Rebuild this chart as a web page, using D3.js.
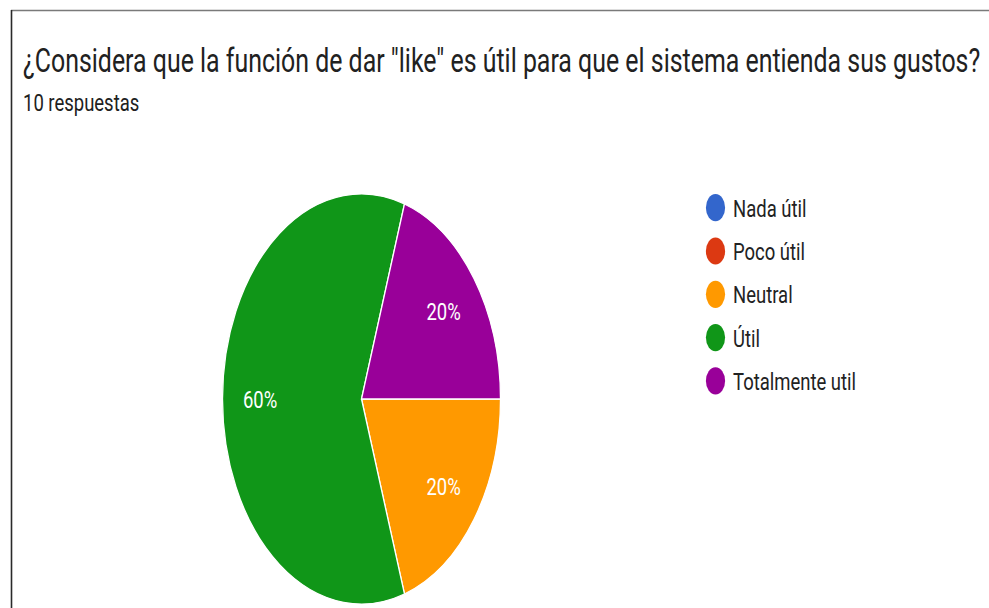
<!DOCTYPE html>
<html>
<head>
<meta charset="utf-8">
<script src="https://cdn.jsdelivr.net/npm/d3@7"></script>
<style>
  html, body { margin: 0; padding: 0; background: #fff; }
  svg { display: block; font-family: Roboto, "Noto Sans", Arial, sans-serif; }
</style>
</head>
<body>
<svg id="chart" width="989" height="608"></svg>
<script>
// Survey answers
const categories = ["Nada útil", "Poco útil", "Neutral", "Útil", "Totalmente util"];
const counts = [0, 0, 2, 6, 2];
const colors = ["#3366cc", "#dc3912", "#ff9900", "#109618", "#990099"];
const title = "¿Considera que la función de dar \"like\" es útil para que el sistema entienda sus gustos?";
const subtitle = "10 respuestas";

const svg = d3.select("#chart");
const W = 989, H = 608;

// Horizontal compression applied to the pie
const sx = 139 / 205;
// Horizontal compression for the smaller labels
const sxText = 0.77;

// Card border (top and left edges visible)
svg.append("line").attr("x1", 11).attr("x2", W).attr("y1", 10.5).attr("y2", 10.5)
  .attr("stroke", "#7a7a7a").attr("stroke-width", 1.6);
svg.append("line").attr("x1", 11.5).attr("x2", 11.5).attr("y1", 10).attr("y2", H)
  .attr("stroke", "#2a2a2a").attr("stroke-width", 1.6);

function addText(str, x, y, size, fill, fitWidth, anchor) {
  const t = svg.append("text")
    .attr("font-size", size)
    .attr("fill", fill)
    .attr("text-anchor", anchor || "start")
    .text(str);
  let k = sxText;
  if (fitWidth) k = fitWidth / t.node().getComputedTextLength();
  t.attr("transform", `translate(${x},${y}) scale(${k},1)`);
  return t;
}

addText(title, 23, 72, 32.5, "#212121", 958);
addText(subtitle, 23, 111, 24, "#212121");

// Pie
const cx = 361.5, cy = 399, ry = 205;
const total = d3.sum(counts);
const pie = d3.pie().sort(null).value(d => d.v)
  .startAngle(Math.PI / 2).endAngle(Math.PI / 2 + 2 * Math.PI);
const data = pie(categories.map((c, i) => ({ c, v: counts[i], col: colors[i] })));
const arc = d3.arc().innerRadius(0).outerRadius(ry);
const labelArc = d3.arc().innerRadius(ry * 0.73).outerRadius(ry * 0.73);

const g = svg.append("g").attr("transform", `translate(${cx},${cy}) scale(${sx},1)`);
g.selectAll("path.slice")
  .data(data.filter(d => d.data.v > 0))
  .join("path")
  .attr("class", "slice")
  .attr("d", arc)
  .attr("fill", d => d.data.col)
  .attr("stroke", "#fff")
  .attr("stroke-width", 1.3)
  .attr("vector-effect", "non-scaling-stroke");

data.filter(d => d.data.v > 0).forEach(d => {
  const [lx, ly] = labelArc.centroid(d);
  const pct = Math.round(d.data.v / total * 100) + "%";
  addText(pct, cx + lx * sx, cy + ly + 8.5, 24, "#fff", null, "middle");
});

// Legend
const legX = 715.5, legY0 = 207.7, legStep = 43.3;
categories.forEach((c, i) => {
  const y = legY0 + i * legStep;
  svg.append("ellipse")
    .attr("cx", legX).attr("cy", y)
    .attr("rx", 9.6).attr("ry", 13.6)
    .attr("fill", colors[i]);
  addText(c, 733, y + 9, 24, "#222");
});
</script>
</body>
</html>
